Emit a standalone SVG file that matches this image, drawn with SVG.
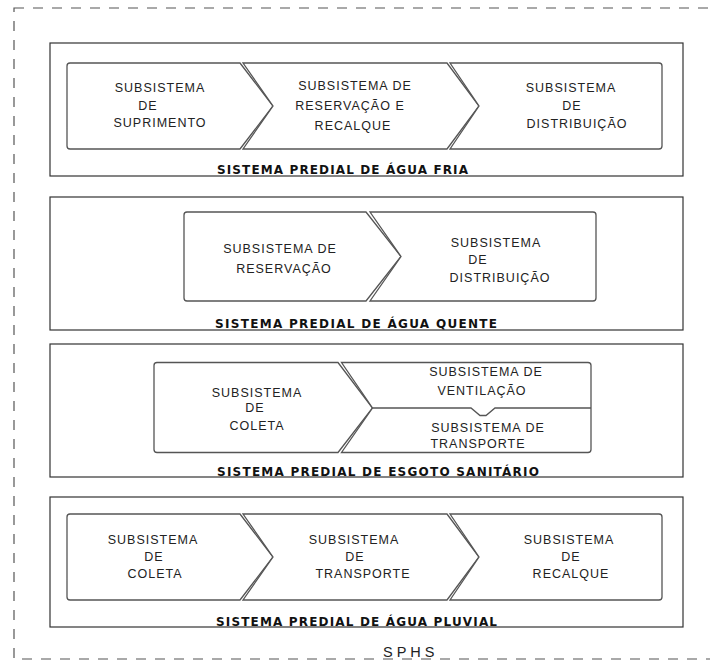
<svg xmlns="http://www.w3.org/2000/svg" width="710" height="664" viewBox="0 0 710 664">
<style>
.outer{fill:none;stroke:#555;stroke-width:1.2;stroke-dasharray:10 9}
.box{fill:#fff;stroke:#333;stroke-width:1.2}
.chev{fill:#fff;stroke:#555;stroke-width:1.3;stroke-linejoin:miter}
.lbl{font-family:"Liberation Sans",Arial,sans-serif;font-size:12.5px;letter-spacing:1px;fill:#222;text-anchor:middle}
.ttl{font-family:"DejaVu Sans",Verdana,sans-serif;font-size:12px;font-weight:bold;fill:#111}
.sphs{font-family:"Liberation Sans",Arial,sans-serif;font-size:14.5px;fill:#222}
</style>
<rect width="710" height="664" fill="#fff"/>
<g id="sphs">
<rect class="outer" x="14" y="8" width="700" height="651"/>
<text class="sphs" x="383" y="657">S P H S</text>
</g>

<g id="agua-fria">
<rect class="box" x="50" y="43" width="633" height="133"/>
<text class="ttl" x="217" y="174" textLength="251" lengthAdjust="spacing">SISTEMA PREDIAL DE ÁGUA FRIA</text>
</g>
<g id="af-suprimento">
<path class="chev" d="M70,63 H240 L273,106 L240,149 H70 Q67,149 67,146 V66 Q67,63 70,63 Z"/>
<text class="lbl"><tspan x="160" y="91.5">SUBSISTEMA</tspan><tspan x="148" y="109.5">DE</tspan><tspan x="160" y="127">SUPRIMENTO</tspan></text>
</g>
<g id="af-reservacao">
<path class="chev" d="M243,63 H447 L479,106 L447,149 H243 L273,106 Z"/>
<text class="lbl"><tspan x="355" y="89.5">SUBSISTEMA DE</tspan><tspan x="350" y="109.5">RESERVAÇÃO E</tspan><tspan x="353" y="129.5">RECALQUE</tspan></text>
</g>
<g id="af-distribuicao">
<path class="chev" d="M450,63 H659 Q662,63 662,66 V146 Q662,149 659,149 H450 L479,106 Z"/>
<text class="lbl"><tspan x="571" y="91.5">SUBSISTEMA</tspan><tspan x="572" y="109.5">DE</tspan><tspan x="577" y="128">DISTRIBUIÇÃO</tspan></text>
</g>

<g id="agua-quente">
<rect class="box" x="50" y="197" width="633" height="133"/>
<text class="ttl" x="215" y="328" textLength="282" lengthAdjust="spacing">SISTEMA PREDIAL DE ÁGUA QUENTE</text>
</g>
<g id="aq-reservacao">
<path class="chev" d="M187,212 H366 L401,256.5 L366,301 H187 Q184,301 184,298 V215 Q184,212 187,212 Z"/>
<text class="lbl"><tspan x="280" y="252.5">SUBSISTEMA DE</tspan><tspan x="284" y="272.5">RESERVAÇÃO</tspan></text>
</g>
<g id="aq-distribuicao">
<path class="chev" d="M370,212 H593 Q596,212 596,215 V298 Q596,301 593,301 H370 L401,256.5 Z"/>
<text class="lbl"><tspan x="496" y="246.5">SUBSISTEMA</tspan><tspan x="478" y="264">DE</tspan><tspan x="500" y="281.5">DISTRIBUIÇÃO</tspan></text>
</g>

<g id="esgoto">
<rect class="box" x="50" y="344" width="633" height="133"/>
<text class="ttl" x="217" y="475.5" textLength="322" lengthAdjust="spacing">SISTEMA PREDIAL DE ESGOTO SANITÁRIO</text>
</g>
<g id="es-coleta">
<path class="chev" d="M157,362.5 H338 L372.5,408 L338,452.5 H157 Q154,452.5 154,449.5 V365.5 Q154,362.5 157,362.5 Z"/>
<text class="lbl"><tspan x="257" y="396.5">SUBSISTEMA</tspan><tspan x="255" y="412">DE</tspan><tspan x="257" y="429.5">COLETA</tspan></text>
</g>
<g id="es-ventilacao-transporte">
<path class="chev" d="M341.5,362.5 H588 Q591,362.5 591,365.5 V449.5 Q591,452.5 588,452.5 H341.5 L372.5,408 Z"/>
<path class="chev" fill="none" d="M372.5,408 H471 L480,415.5 H486 L495,408 H591"/>
<text class="lbl"><tspan x="486" y="375.5">SUBSISTEMA DE</tspan><tspan x="482" y="395">VENTILAÇÃO</tspan><tspan x="488" y="432">SUBSISTEMA DE</tspan><tspan x="478" y="447.5">TRANSPORTE</tspan></text>
</g>

<g id="pluvial">
<rect class="box" x="50" y="497" width="633" height="130"/>
<text class="ttl" x="216" y="625.5" textLength="281" lengthAdjust="spacing">SISTEMA PREDIAL DE ÁGUA PLUVIAL</text>
</g>
<g id="pl-coleta">
<path class="chev" d="M70,514 H240 L273,557 L240,600 H70 Q67,600 67,597 V517 Q67,514 70,514 Z"/>
<text class="lbl"><tspan x="153" y="543.5">SUBSISTEMA</tspan><tspan x="154" y="561">DE</tspan><tspan x="155" y="578">COLETA</tspan></text>
</g>
<g id="pl-transporte">
<path class="chev" d="M243,514 H447 L479,557 L447,600 H243 L273,557 Z"/>
<text class="lbl"><tspan x="354" y="543.5">SUBSISTEMA</tspan><tspan x="355" y="561">DE</tspan><tspan x="363" y="578">TRANSPORTE</tspan></text>
</g>
<g id="pl-recalque">
<path class="chev" d="M450,514 H659 Q662,514 662,517 V597 Q662,600 659,600 H450 L479,557 Z"/>
<text class="lbl"><tspan x="569" y="543.5">SUBSISTEMA</tspan><tspan x="571" y="561">DE</tspan><tspan x="571" y="578">RECALQUE</tspan></text>
</g>
</svg>
